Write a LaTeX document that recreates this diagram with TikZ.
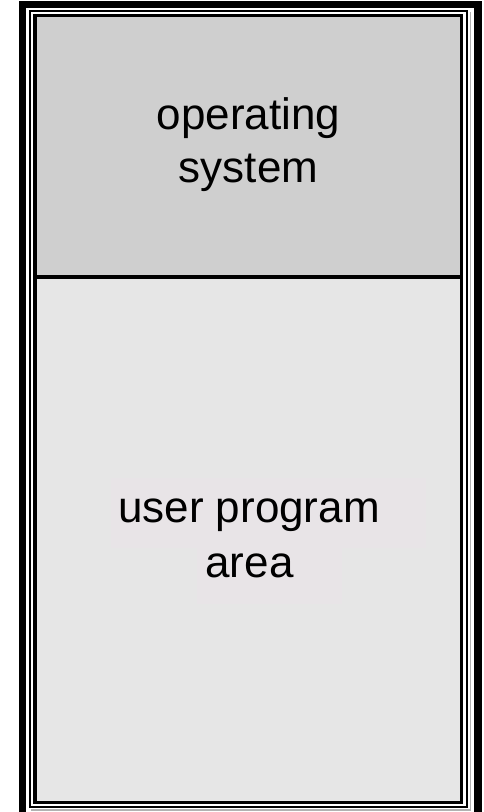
\documentclass[tikz,border=0pt]{standalone}
\usepackage{fontspec}
\setmainfont{Liberation Sans}
\definecolor{osgray}{RGB}{207,207,207}
\definecolor{usergray}{RGB}{230,230,230}
\definecolor{hlbox}{RGB}{232,228,231}
\begin{document}
\begin{tikzpicture}[x=1pt,y=1pt,
  lbl/.style={anchor=base,inner sep=0pt,font=\fontsize{44}{55}\selectfont},
  frame/.style={draw=black,line join=miter}]
\useasboundingbox (0,0) rectangle (483,812);
% fills
\fill[osgray] (35,812-15.7) rectangle (461.7,812-277);
\fill[usergray] (35,812-277) rectangle (461.7,812-802.3);
% highlight boxes behind text
\fill[hlbox] (111,812-478) rectangle (426,812-548);
\fill[hlbox] (197,812-548) rectangle (342,812-604);
% outer thick frame
\draw[frame,line width=7.5pt] (22.5,812-4.5) rectangle (478,-4);
% thin frame
\draw[frame,line width=2.2pt] (30.2,812-11.2) rectangle (466.7,812-806.8);
% light shadow lines
\draw[gray!60,line width=1.2pt] (470.8,812-12) -- (470.8,812-810) -- (31,812-810);
% inner box border
\draw[frame,line width=3.3pt] (35,812-15.7) rectangle (461.7,812-802.3);
% divider
\coordinate (dl) at (35,812-277);
\coordinate (dr) at (461.7,812-277);
\draw[line width=4pt] (dl) -- (dr);
% labels
\node[lbl] (os1) at (248.5,812-130) {operating};
\node[lbl] (os2) at (248.5,812-183) {system};
\node[lbl] (up1) at (249,812-523) {user program};
\node[lbl] (up2) at (249.5,812-578) {area};
\end{tikzpicture}
\end{document}
